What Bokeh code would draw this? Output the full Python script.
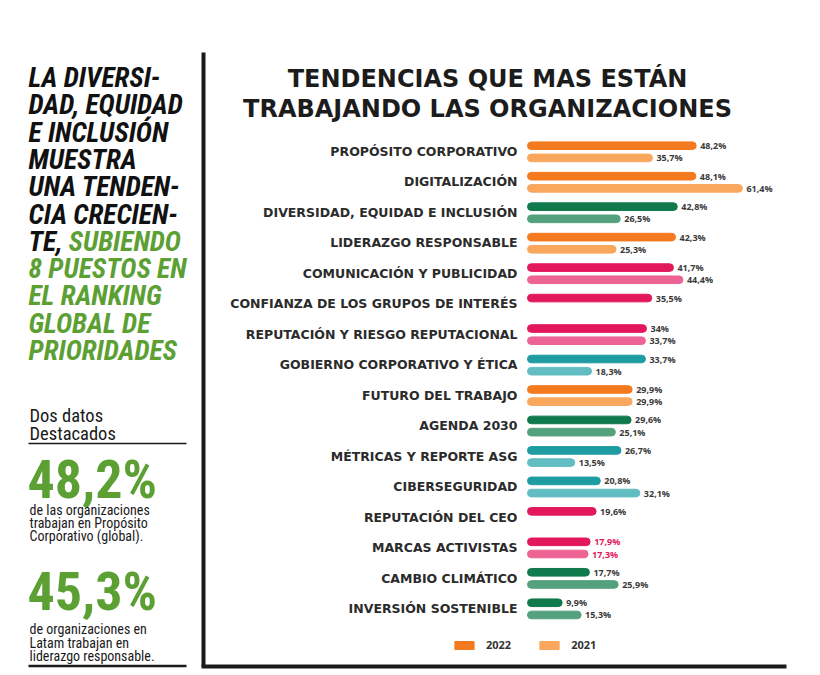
from bokeh.plotting import figure
from bokeh.models import Range1d, ColumnDataSource, Legend, LegendItem
from bokeh.transform import dodge
from bokeh.core.properties import value
from bokeh.embed import file_html
from bokeh.resources import INLINE

# ---------------- data ----------------
categories = [
    "PROPÓSITO CORPORATIVO",
    "DIGITALIZACIÓN",
    "DIVERSIDAD, EQUIDAD E INCLUSIÓN",
    "LIDERAZGO RESPONSABLE",
    "COMUNICACIÓN Y PUBLICIDAD",
    "CONFIANZA DE LOS GRUPOS DE INTERÉS",
    "REPUTACIÓN Y RIESGO REPUTACIONAL",
    "GOBIERNO CORPORATIVO Y ÉTICA",
    "FUTURO DEL TRABAJO",
    "AGENDA 2030",
    "MÉTRICAS Y REPORTE ASG",
    "CIBERSEGURIDAD",
    "REPUTACIÓN DEL CEO",
    "MARCAS ACTIVISTAS",
    "CAMBIO CLIMÁTICO",
    "INVERSIÓN SOSTENIBLE",
]
values_2022 = [48.2, 48.1, 42.8, 42.3, 41.7, 35.5, 34.0, 33.7, 29.9, 29.6, 26.7, 20.8, 19.6, 17.9, 17.7, 9.9]
values_2021 = [35.7, 61.4, 26.5, 25.3, 44.4, None, 33.7, 18.3, 29.9, 25.1, 13.5, 32.1, None, 17.3, 25.9, 15.3]
series_names = ["2022", "2021"]

# ---------------- styles ----------------
groups = ["orange", "orange", "green", "orange", "pink", "pink", "pink", "teal",
          "orange", "green", "teal", "teal", "pink", "pink", "green", "green"]
palette = {
    "orange": ("#F47A1F", "#F8A75C"),
    "green": ("#117A4C", "#54A17E"),
    "pink": ("#E3175B", "#EC6394"),
    "teal": ("#1E9CA1", "#62BDC2"),
}
label_col = ["#E3175B" if c == "MARCAS ACTIVISTAS" else "#3a3a3a" for c in categories]

W, H = 800, 672
PAGE = 0
BAR0 = 527          # page x of bar origin
PPP = 3.5           # pixels per percent
ROW0 = 151          # page y of first row
PITCH = 30.47       # pixels per row

def sx(px):
    return (px - BAR0) / PPP

def sy(py):
    return (py - ROW0) / PITCH

p = figure(width=W, height=H, output_backend="svg", toolbar_location=None,
           x_range=Range1d(sx(PAGE), sx(PAGE + W)),
           y_range=Range1d(sy(PAGE + H), sy(PAGE)),
           min_border=0, min_border_left=0, min_border_right=0,
           min_border_top=0, min_border_bottom=0)
p.axis.visible = False
p.grid.visible = False
p.outline_line_color = None
p.background_fill_color = "white"
p.border_fill_color = "white"

def fmt(v):
    if float(v).is_integer():
        return f"{int(v)}%"
    return f"{v:.1f}".replace(".", ",") + "%"

rows = list(range(len(categories)))
src22 = ColumnDataSource(dict(
    row=rows, val=values_2022,
    color=[palette[g][0] for g in groups],
    lab=[fmt(v) for v in values_2022], lc=label_col))
r21 = [i for i, v in enumerate(values_2021) if v is not None]
src21 = ColumnDataSource(dict(
    row=r21, val=[values_2021[i] for i in r21],
    color=[palette[groups[i]][1] for i in r21],
    lab=[fmt(values_2021[i]) for i in r21], lc=[label_col[i] for i in r21]))

off22, off21 = -0.19, 0.21
bh = 0.25
h22 = p.hbar(y=dodge("row", off22), left=0, right="val", height=bh, color="color",
             source=src22, border_radius=4)
h21 = p.hbar(y=dodge("row", off21), left=0, right="val", height=bh, color="color",
             source=src21, border_radius=4)

lab_kw = dict(text_font=value("Open Sans"), text_font_size="9px", text_font_style="bold",
              text_color="lc", text_baseline="middle", text_align="left", x_offset=4)
p.text(x="val", y=dodge("row", off22), text="lab", source=src22, **lab_kw)
p.text(x="val", y=dodge("row", off21), text="lab", source=src21, **lab_kw)

# category labels
p.text(x=[0] * len(categories), y=rows, text=categories, x_offset=-10,
       text_align="right", text_baseline="middle", text_font=value("DejaVu Sans"),
       text_font_size="12.5px", text_font_style="bold", text_color="#2b2b2b")

# title
p.text(x=[sx(487), sx(487)], y=[sy(78), sy(108)],
       text=["TENDENCIAS QUE MAS ESTÁN", "TRABAJANDO LAS ORGANIZACIONES"],
       text_align="center", text_baseline="middle", text_font=value("DejaVu Sans"),
       text_font_size="24px", text_font_style="bold", text_color="#1c1c1c")

# legend
legend = Legend(items=[LegendItem(label=series_names[0], renderers=[h22], index=0),
                       LegendItem(label=series_names[1], renderers=[h21], index=0)],
                orientation="horizontal", location=(452, 672 - 652),
                glyph_width=24, glyph_height=10, label_standoff=10, spacing=26,
                padding=0, margin=0, border_line_color=None, background_fill_alpha=0,
                label_text_font="Open Sans", label_text_font_size="11px",
                label_text_font_style="bold", label_text_color="#333333")
p.add_layout(legend)

# frame lines
p.segment(x0=[sx(203), sx(201)], y0=[sy(52), sy(666)], x1=[sx(203), sx(786)],
          y1=[sy(666), sy(666)], line_width=[4, 4], line_color="#1a1a1a")

# ---------------- sidebar ----------------
GREEN = "#5CA034"
SB = value("Roboto Condensed, DejaVu Sans Condensed, Roboto")
side_lines = ["LA DIVERSI-", "DAD, EQUIDAD", "E INCLUSIÓN", "MUESTRA", "UNA TENDEN-",
              "CIA CRECIEN-", "TE,", "8 PUESTOS EN", "EL RANKING", "GLOBAL DE", "PRIORIDADES"]
side_cols = ["#111111"] * 7 + [GREEN] * 4
side_y = [77 + 27.3 * i for i in range(len(side_lines))]
p.text(x=[sx(28)] * len(side_lines), y=[sy(v) for v in side_y], text=side_lines,
       text_color=side_cols, text_font=SB, text_font_size="27.5px",
       text_font_style="bold italic", text_baseline="middle", text_align="left")
p.text(x=[sx(68)], y=[sy(side_y[6])], text=["SUBIENDO"], text_color=GREEN, text_font=SB,
       text_font_size="27.5px", text_font_style="bold italic", text_baseline="middle")

p.text(x=[sx(29), sx(29)], y=[sy(415), sy(433)], text=["Dos datos", "Destacados"],
       text_font=SB, text_font_size="18.5px", text_color="#1a1a1a", text_baseline="middle")
p.segment(x0=[sx(28), sx(28)], y0=[sy(443), sy(665.5)], x1=[sx(186), sx(186)],
          y1=[sy(443), sy(665.5)], line_width=[1.5, 2.5], line_color="#1a1a1a")

p.text(x=[sx(27), sx(27)], y=[sy(479), sy(591)], text=["48,2%", "45,3%"],
       text_font=SB, text_font_size="54px", text_color=GREEN, text_baseline="middle",
       text_font_style="bold")
small = ["de las organizaciones", "trabajan en Propósito", "Corporativo (global).",
         "de organizaciones en", "Latam trabajan en", "liderazgo responsable."]
small_y = [509, 522, 535, 628, 642, 655]
p.text(x=[sx(29)] * 6, y=[sy(v) for v in small_y], text=small, text_font=SB,
       text_font_size="14px", text_color="#1a1a1a", text_baseline="middle")

open("out.html", "w").write(file_html(p, INLINE))
